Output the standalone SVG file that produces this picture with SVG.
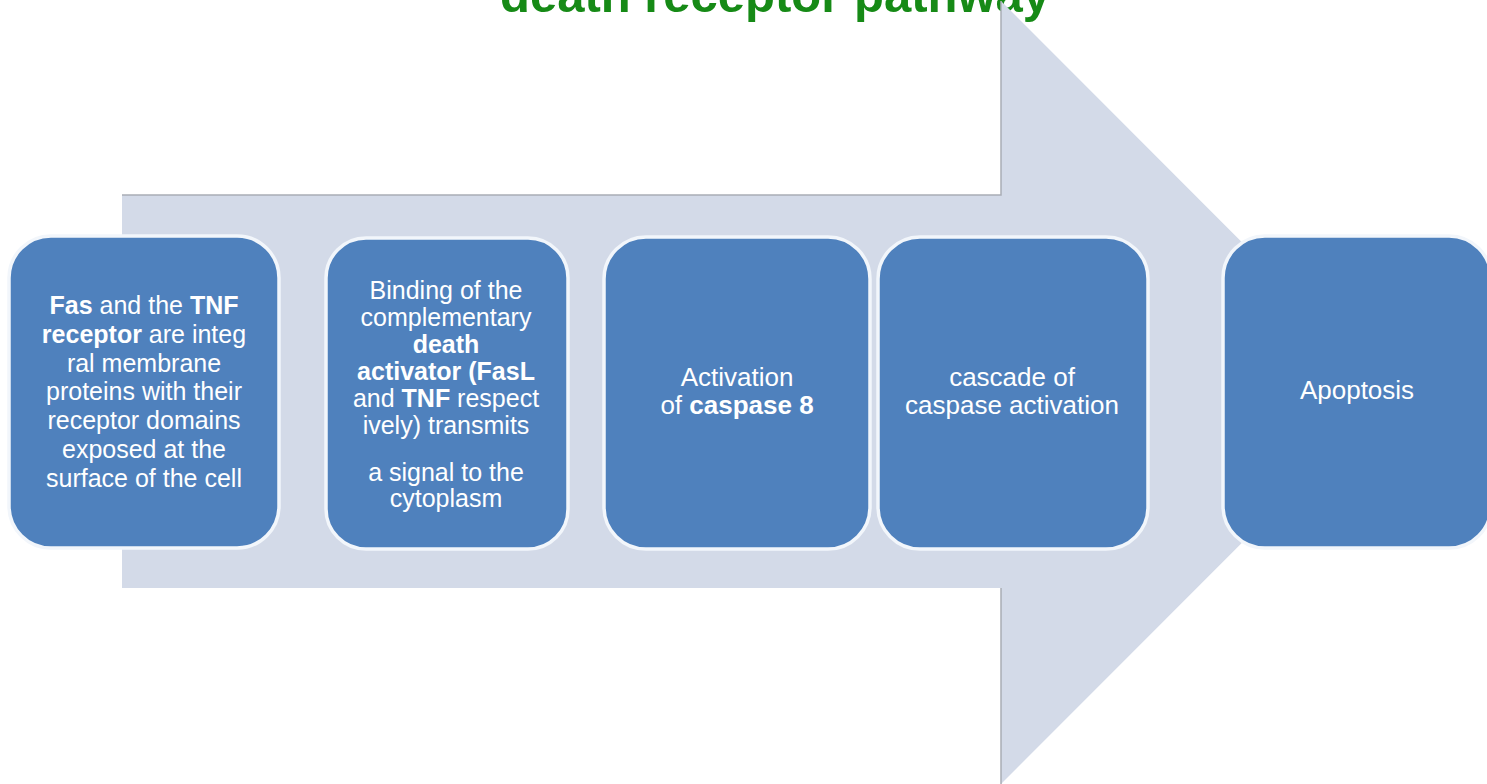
<svg xmlns="http://www.w3.org/2000/svg" width="1487" height="784" viewBox="0 0 1487 784">
  <style>
    .box { fill: #4f81bd; stroke: #f2f6fb; stroke-width: 3.5; }
    .t { font-family: "Liberation Sans", Arial, sans-serif; font-size: 26px; fill: #ffffff; text-anchor: middle; }
    .s { font-size: 25px; }
    .b { font-weight: bold; }
    .title { font-family: "Liberation Sans", Arial, sans-serif; font-size: 49px; font-weight: bold; fill: #168a16; text-anchor: middle; }
    .edge { stroke: #a9adb5; stroke-width: 1.5; fill: none; }
  </style>
  <rect x="0" y="0" width="1487" height="784" fill="#ffffff"/>
  <text class="title" x="775" y="12">death receptor pathway</text>

  <g id="connectors">
    <g id="flow-arrow">
      <polygon points="122,195 1001,195 1001,1 1392,392.5 1001,784 1001,588 122,588" fill="#d3dae8"/>
      <polyline class="edge" points="122,195 1001,195 1001,1"/>
      <line class="edge" x1="1001" y1="588" x2="1001" y2="784"/>
    </g>
  </g>

  <g id="node-fas-tnf">
    <rect class="box" x="9" y="236" width="270" height="312" rx="42"/>
    <text class="t s" x="144" y="314"><tspan class="b">Fas</tspan> and the <tspan class="b">TNF</tspan></text>
    <text class="t s" x="144" y="343"><tspan class="b">receptor</tspan> are integ</text>
    <text class="t s" x="144" y="372">ral membrane</text>
    <text class="t s" x="144" y="400">proteins with their</text>
    <text class="t s" x="144" y="429">receptor domains</text>
    <text class="t s" x="144" y="458">exposed at the</text>
    <text class="t s" x="144" y="487">surface of the cell</text>
  </g>

  <g id="node-binding">
    <rect class="box" x="326" y="238" width="242" height="311" rx="40"/>
    <text class="t s" x="446" y="299">Binding of the</text>
    <text class="t s" x="446" y="326">complementary</text>
    <text class="t s b" x="446" y="353">death</text>
    <text class="t s" x="446" y="380"><tspan class="b">activator (FasL</tspan></text>
    <text class="t s" x="446" y="407">and <tspan class="b">TNF</tspan> respect</text>
    <text class="t s" x="446" y="434">ively) transmits</text>
    <text class="t s" x="446" y="481">a signal to the</text>
    <text class="t s" x="446" y="507">cytoplasm</text>
  </g>

  <g id="node-caspase8">
    <rect class="box" x="604" y="237" width="266" height="312" rx="42"/>
    <text class="t" x="737" y="386">Activation</text>
    <text class="t" x="737" y="414">of <tspan class="b">caspase 8</tspan></text>
  </g>

  <g id="node-cascade">
    <rect class="box" x="878" y="237" width="270" height="312" rx="42"/>
    <text class="t" x="1012" y="386">cascade of</text>
    <text class="t" x="1012" y="414">caspase activation</text>
  </g>

  <g id="node-apoptosis">
    <rect class="box" x="1223" y="236" width="268" height="312" rx="42"/>
    <text class="t" x="1357" y="399">Apoptosis</text>
  </g>
</svg>
